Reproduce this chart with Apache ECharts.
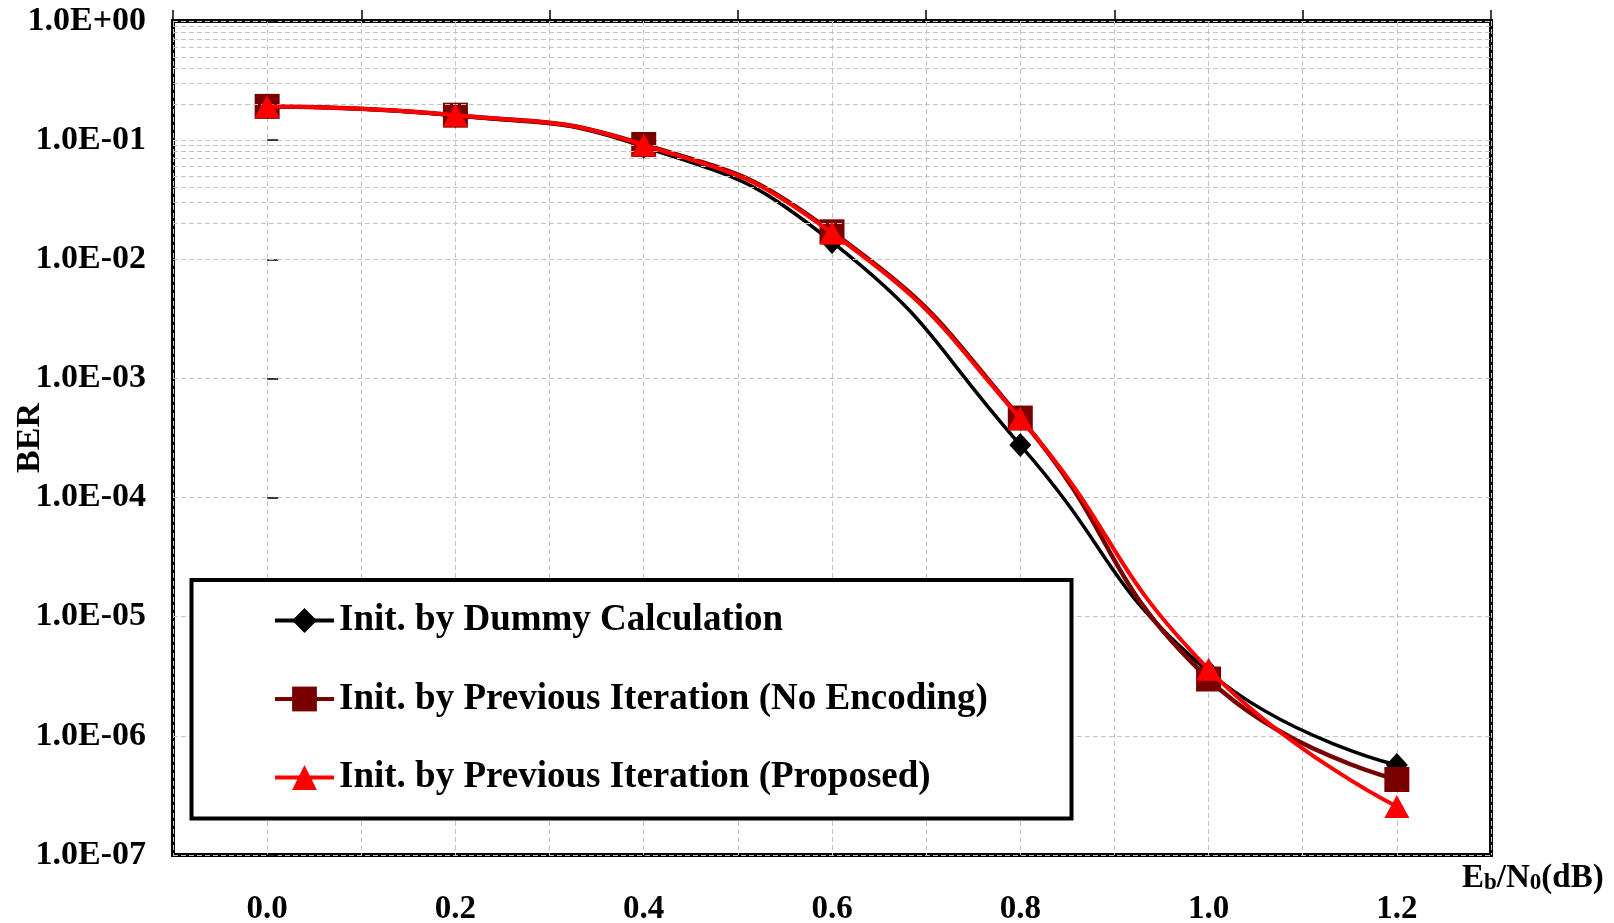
<!DOCTYPE html>
<html>
<head>
<meta charset="utf-8">
<script src="https://cdn.jsdelivr.net/npm/echarts@6/dist/echarts.min.js"></script>
<style>
html,body{margin:0;padding:0;background:#fff;}
#chart{width:1614px;height:923px;}
</style>
</head>
<body>
<div id="chart"></div>
<script>
// ---- data ----
const ebn0 = [0.0, 0.2, 0.4, 0.6, 0.8, 1.0, 1.2];
const berDummy = [0.192, 0.160, 0.088, 0.0140, 2.76e-4, 3.45e-6, 5.7e-7];
const berPrevNoEnc = [0.192, 0.162, 0.092, 0.0170, 4.65e-4, 3.0e-6, 4.3e-7];
const berPrevProposed = [0.192, 0.162, 0.091, 0.0166, 4.6e-4, 3.62e-6, 2.55e-7];
const seriesNames = [
  'Init. by Dummy Calculation',
  'Init. by Previous Iteration (No Encoding)',
  'Init. by Previous Iteration (Proposed)'
];
const xTickLabels = ['0.0', '0.2', '0.4', '0.6', '0.8', '1.0', '1.2'];
const yTickLabels = ['1.0E-07', '1.0E-06', '1.0E-05', '1.0E-04', '1.0E-03', '1.0E-02', '1.0E-01', '1.0E+00'];
// minor horizontal grid positions (2..9 x 10^n)
const minorGridValues = [];
for (let n = -7; n <= -1; n++) {
  for (let k = 2; k <= 9; k++) minorGridValues.push(+(k * Math.pow(10, n)).toPrecision(3));
}

const FONT = '"Liberation Serif", "Times New Roman", serif';
const gridLine = { type: [5, 3], color: '#c4c4c4', width: 1 };

const chart = echarts.init(document.getElementById('chart'), null, { renderer: 'canvas' });

function mk(arr) { return ebn0.map((x, i) => [x, arr[i]]); }

const option = {
  animation: false,
  backgroundColor: '#fff',
  grid: {
    left: 173, top: 21, right: 123, bottom: 68,
    containLabel: false, outerBoundsMode: 'none',
    show: true, borderColor: '#000', borderWidth: 4, backgroundColor: 'transparent'
  },
  xAxis: [{
    type: 'value', min: -0.1, max: 1.3, interval: 0.1,
    axisLine: { show: false },
    axisTick: { show: false },
    axisLabel: {
      margin: 38, color: '#000', fontFamily: FONT, fontWeight: 'bold', fontSize: 33,
      formatter: function (v) { const s = v.toFixed(1); return xTickLabels.indexOf(s) >= 0 ? s : ''; }
    },
    splitLine: { show: true, lineStyle: gridLine },
    name: '{m|E}{s|b}{m|/N}{s|0}{m|(dB)}',
    nameLocation: 'end',
    nameGap: -29,
    nameMoveOverlap: false,
    nameTextStyle: {
      padding: [46, 0, 0, 0],
      rich: {
        m: { fontFamily: FONT, fontWeight: 'bold', fontSize: 33, color: '#000', lineHeight: 33, verticalAlign: 'top' },
        s: { fontFamily: FONT, fontWeight: 'bold', fontSize: 23, color: '#000', lineHeight: 22, verticalAlign: 'bottom', padding: [15, 0, 0, 0] }
      }
    }
  }, {
    type: 'value', position: 'top', min: -0.1, max: 1.3, interval: 0.2,
    axisLine: { show: false },
    axisTick: { show: true, inside: false, length: 11, lineStyle: { color: '#000', width: 1.5 } },
    axisLabel: { show: false },
    splitLine: { show: false }
  }],
  yAxis: {
    type: 'log', logBase: 10, min: 1e-7, max: 1, splitNumber: 7,
    axisLine: { show: false },
    axisTick: { show: true, inside: true, length: 11, lineStyle: { color: '#000', width: 1.5 } },
    axisLabel: {
      margin: 27, color: '#000', fontFamily: FONT, fontWeight: 'bold', fontSize: 34,
      formatter: function (v) { const e = Math.round(Math.log10(v)); return yTickLabels[e + 7] || ''; }
    },
    splitLine: { show: true, lineStyle: gridLine },
    minorTick: { show: false },
    minorSplitLine: { show: false },
    name: 'BER',
    nameLocation: 'middle',
    nameGap: 126,
    nameMoveOverlap: false,
    nameTextStyle: { fontFamily: FONT, fontWeight: 'bold', fontSize: 34, color: '#000' }
  },
  legend: {
    orient: 'vertical',
    left: 273, top: 602,
    padding: 0,
    itemWidth: 59, itemHeight: 31, itemGap: 41.5,
    z: 10,
    lineStyle: { width: 4 },
    textStyle: { fontFamily: FONT, fontWeight: 'bold', fontSize: 37, color: '#000' },
    data: seriesNames
  },
  graphic: [{
    type: 'rect', z: 9, silent: true,
    shape: { x: 191.5, y: 580, width: 880, height: 238.5 },
    style: { fill: '#fff', stroke: '#000', lineWidth: 4 }
  }],
  series: [
    {
      name: '_grid', type: 'line', data: [[-0.1, 1]], showSymbol: false, symbol: 'none',
      lineStyle: { width: 0 }, z: 1, silent: true, legendHoverLink: false,
      markLine: {
        silent: true, symbol: ['none', 'none'], label: { show: false },
        lineStyle: gridLine, animation: false,
        data: minorGridValues.map(v => ({ yAxis: v }))
      }
    },
    {
      name: seriesNames[0], type: 'line', data: mk(berDummy), smooth: 0.5,
      symbol: 'diamond', symbolSize: [22, 24],
      lineStyle: { color: '#000', width: 3.5 },
      itemStyle: { color: '#000' }, z: 3
    },
    {
      name: seriesNames[1], type: 'line', data: mk(berPrevNoEnc), smooth: 0.5,
      symbol: 'rect', symbolSize: 25,
      lineStyle: { color: '#7a0000', width: 4.5 },
      itemStyle: { color: '#7a0000' }, z: 4
    },
    {
      name: seriesNames[2], type: 'line', data: mk(berPrevProposed), smooth: 0.5,
      symbol: 'triangle', symbolSize: [25, 23],
      lineStyle: { color: '#ff0000', width: 4 },
      itemStyle: { color: '#ff0000' }, z: 5
    }
  ]
};
chart.setOption(option);
</script>
</body>
</html>
